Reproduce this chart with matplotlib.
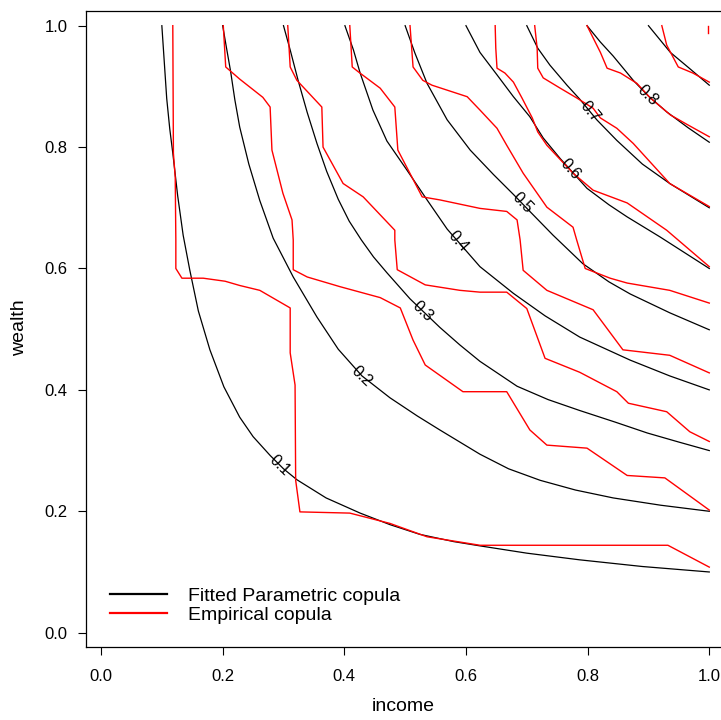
import numpy as np
import matplotlib
matplotlib.use("Agg")
import matplotlib.pyplot as plt

plt.rcParams['font.family'] = ['Liberation Sans', 'DejaVu Sans']

# contour levels
levels = [0.1, 0.2, 0.3, 0.4, 0.5, 0.6, 0.7, 0.8, 0.9]

# fitted parametric copula contours (income, wealth)
fit_x_01 = [0.100, 0.104, 0.108, 0.113, 0.118, 0.126, 0.135, 0.146, 0.160, 0.179, 0.202, 0.228, 0.250, 0.278, 0.300, 0.322, 0.370, 0.426, 0.475, 0.524, 0.580, 0.623, 0.700, 0.787, 0.890, 1.000]
fit_y_01 = [1.000, 0.940, 0.880, 0.830, 0.790, 0.720, 0.655, 0.597, 0.530, 0.466, 0.405, 0.355, 0.323, 0.292, 0.270, 0.252, 0.222, 0.197, 0.178, 0.162, 0.150, 0.143, 0.131, 0.120, 0.109, 0.100]
fit_x_02 = [0.200, 0.206, 0.213, 0.220, 0.228, 0.243, 0.261, 0.283, 0.316, 0.355, 0.390, 0.429, 0.475, 0.520, 0.557, 0.623, 0.670, 0.722, 0.780, 0.842, 0.920, 1.000]
fit_y_02 = [1.000, 0.965, 0.925, 0.878, 0.833, 0.772, 0.712, 0.650, 0.586, 0.520, 0.467, 0.423, 0.387, 0.357, 0.334, 0.294, 0.270, 0.251, 0.235, 0.222, 0.210, 0.200]
fit_x_03 = [0.300, 0.311, 0.324, 0.339, 0.355, 0.371, 0.390, 0.408, 0.428, 0.448, 0.470, 0.508, 0.557, 0.590, 0.623, 0.684, 0.735, 0.787, 0.845, 0.898, 0.950, 1.000]
fit_y_03 = [1.000, 0.960, 0.910, 0.857, 0.806, 0.760, 0.714, 0.678, 0.647, 0.619, 0.593, 0.550, 0.503, 0.474, 0.447, 0.406, 0.384, 0.366, 0.347, 0.329, 0.314, 0.300]
fit_x_04 = [0.401, 0.415, 0.426, 0.447, 0.470, 0.503, 0.536, 0.569, 0.623, 0.678, 0.730, 0.787, 0.870, 0.935, 1.000]
fit_y_04 = [1.000, 0.960, 0.922, 0.861, 0.810, 0.762, 0.713, 0.665, 0.603, 0.559, 0.522, 0.487, 0.449, 0.423, 0.400]
fit_x_05 = [0.500, 0.516, 0.536, 0.569, 0.607, 0.645, 0.678, 0.706, 0.743, 0.792, 0.835, 0.870, 0.935, 1.000]
fit_y_05 = [1.000, 0.955, 0.905, 0.845, 0.795, 0.755, 0.722, 0.693, 0.655, 0.608, 0.578, 0.558, 0.527, 0.499]
fit_x_06 = [0.600, 0.623, 0.651, 0.678, 0.705, 0.727, 0.755, 0.799, 0.835, 0.865, 0.919, 1.000]
fit_y_06 = [1.000, 0.956, 0.919, 0.883, 0.850, 0.815, 0.781, 0.732, 0.705, 0.685, 0.652, 0.600]
fit_x_07 = [0.700, 0.718, 0.738, 0.766, 0.787, 0.815, 0.848, 0.890, 0.935, 1.000]
fit_y_07 = [1.000, 0.963, 0.935, 0.902, 0.879, 0.845, 0.811, 0.772, 0.740, 0.700]
fit_x_08 = [0.799, 0.821, 0.842, 0.875, 0.900, 0.930, 0.965, 1.000]
fit_y_08 = [1.000, 0.973, 0.950, 0.910, 0.884, 0.858, 0.832, 0.808]
fit_x_09 = [0.900, 0.936, 0.967, 1.000]
fit_y_09 = [1.000, 0.956, 0.930, 0.902]

# empirical copula contours
emp_x_01 = [0.118, 0.119, 0.122, 0.123, 0.123, 0.133, 0.168, 0.204, 0.228, 0.261, 0.311, 0.311, 0.319, 0.320, 0.327, 0.409, 0.475, 0.536, 0.623, 0.932, 1.000]
emp_y_01 = [1.000, 0.790, 0.750, 0.647, 0.600, 0.584, 0.584, 0.579, 0.572, 0.564, 0.535, 0.461, 0.408, 0.251, 0.199, 0.197, 0.180, 0.158, 0.144, 0.144, 0.108]
emp_x_02 = [0.201, 0.205, 0.228, 0.266, 0.278, 0.281, 0.299, 0.314, 0.316, 0.316, 0.339, 0.393, 0.459, 0.492, 0.513, 0.533, 0.595, 0.623, 0.667, 0.705, 0.733, 0.799, 0.865, 0.927, 1.000]
emp_y_02 = [1.000, 0.932, 0.912, 0.882, 0.866, 0.795, 0.724, 0.680, 0.647, 0.598, 0.586, 0.570, 0.552, 0.535, 0.482, 0.441, 0.397, 0.397, 0.397, 0.334, 0.309, 0.304, 0.259, 0.255, 0.202]
emp_x_03 = [0.307, 0.311, 0.322, 0.363, 0.365, 0.398, 0.431, 0.483, 0.483, 0.487, 0.533, 0.590, 0.623, 0.667, 0.700, 0.730, 0.787, 0.848, 0.867, 0.930, 0.968, 1.000]
emp_y_03 = [1.000, 0.932, 0.910, 0.866, 0.800, 0.740, 0.718, 0.663, 0.647, 0.598, 0.573, 0.564, 0.561, 0.561, 0.534, 0.452, 0.429, 0.397, 0.378, 0.364, 0.331, 0.315]
emp_x_04 = [0.409, 0.413, 0.423, 0.459, 0.483, 0.488, 0.528, 0.557, 0.623, 0.667, 0.684, 0.689, 0.694, 0.733, 0.809, 0.858, 0.935, 1.000]
emp_y_04 = [1.000, 0.932, 0.924, 0.897, 0.866, 0.795, 0.718, 0.713, 0.699, 0.694, 0.680, 0.647, 0.597, 0.564, 0.532, 0.466, 0.457, 0.428]
emp_x_05 = [0.508, 0.513, 0.529, 0.544, 0.602, 0.623, 0.651, 0.667, 0.694, 0.733, 0.776, 0.782, 0.796, 0.837, 0.865, 0.935, 1.000]
emp_y_05 = [1.000, 0.932, 0.910, 0.902, 0.883, 0.861, 0.831, 0.803, 0.757, 0.701, 0.668, 0.647, 0.600, 0.584, 0.576, 0.564, 0.543]
emp_x_06 = [0.648, 0.649, 0.651, 0.664, 0.678, 0.692, 0.709, 0.718, 0.733, 0.776, 0.809, 0.865, 0.930, 1.000]
emp_y_06 = [1.000, 0.963, 0.930, 0.922, 0.907, 0.881, 0.848, 0.825, 0.803, 0.757, 0.729, 0.708, 0.663, 0.603]
emp_x_07 = [0.713, 0.717, 0.718, 0.727, 0.755, 0.782, 0.809, 0.821, 0.848, 0.875, 0.935, 1.000]
emp_y_07 = [1.000, 0.963, 0.930, 0.914, 0.897, 0.881, 0.864, 0.848, 0.831, 0.806, 0.740, 0.702]
emp_x_08 = [0.799, 0.821, 0.832, 0.854, 0.881, 0.903, 0.936, 0.964, 1.000]
emp_y_08 = [1.000, 0.956, 0.930, 0.922, 0.905, 0.881, 0.853, 0.837, 0.817]
emp_x_09 = [0.922, 0.930, 0.949, 0.973, 1.000]
emp_y_09 = [1.000, 0.968, 0.932, 0.922, 0.907]
emp_x_top = [0.998, 0.998]
emp_y_top = [1.000, 0.988]

# where along each fitted curve the level label sits (income value)
label_at = [0.294, 0.429, 0.529, 0.587, 0.692, 0.771, 0.804, 0.899]

fit_x = [fit_x_01, fit_x_02, fit_x_03, fit_x_04, fit_x_05, fit_x_06, fit_x_07, fit_x_08, fit_x_09]
fit_y = [fit_y_01, fit_y_02, fit_y_03, fit_y_04, fit_y_05, fit_y_06, fit_y_07, fit_y_08, fit_y_09]
emp_x = [emp_x_01, emp_x_02, emp_x_03, emp_x_04, emp_x_05, emp_x_06, emp_x_07, emp_x_08, emp_x_09, emp_x_top]
emp_y = [emp_y_01, emp_y_02, emp_y_03, emp_y_04, emp_y_05, emp_y_06, emp_y_07, emp_y_08, emp_y_09, emp_y_top]

fig = plt.figure(figsize=(7.21, 7.20), dpi=100)
ax = fig.add_axes([86 / 721, 1 - 647 / 720, 638 / 721, 636 / 720])
ax.set_xlim(-0.0247, 1.0242)
ax.set_ylim(-0.0236, 1.0242)

for xs, ys in zip(fit_x, fit_y):
    ax.plot(xs, ys, color="black", lw=0.9)
for xs, ys in zip(emp_x, emp_y):
    ax.plot(xs, ys, color="red", lw=1.0)

# contour labels, rotated along the fitted curve
fig.canvas.draw()
for lev, xl, xs, ys in zip(levels, label_at, fit_x, fit_y):
    yl = np.interp(xl, xs, ys)
    p0 = ax.transData.transform((xl - 0.01, np.interp(xl - 0.01, xs, ys)))
    p1 = ax.transData.transform((xl + 0.01, np.interp(xl + 0.01, xs, ys)))
    ang = np.degrees(np.arctan2(p1[1] - p0[1], p1[0] - p0[0]))
    ax.text(xl, yl, f"{lev:.1f}", rotation=ang, rotation_mode="anchor",
            ha="center", va="center", fontsize=11.5, color="black")

ax.plot([], [], color="black", lw=1.6, label="Fitted Parametric copula")
ax.plot([], [], color="red", lw=1.6, label="Empirical copula")
ax.legend(loc="lower left", bbox_to_anchor=(0.0376, 0.036), frameon=False,
          fontsize=14, handlelength=2.93, handletextpad=1.08, labelspacing=0.1,
          borderpad=0, borderaxespad=0)

ticks = [0.0, 0.2, 0.4, 0.6, 0.8, 1.0]
ax.set_xticks(ticks)
ax.set_yticks(ticks)
ax.set_xticklabels([f"{t:.1f}" for t in ticks])
ax.set_yticklabels([f"{t:.1f}" for t in ticks])
ax.tick_params(direction="out", length=5.8, width=0.8, labelsize=12, colors="black")
ax.tick_params(axis="x", pad=10)
ax.tick_params(axis="y", pad=7.5)
for s in ax.spines.values():
    s.set_linewidth(0.9)

ax.set_xlabel("income", fontsize=14, va="center")
ax.set_ylabel("wealth", fontsize=14, va="center")
ax.xaxis.set_label_coords(0.497, -0.094)
ax.yaxis.set_label_coords(-0.1034, 0.5016)

fig.savefig("out.png", dpi=100)
